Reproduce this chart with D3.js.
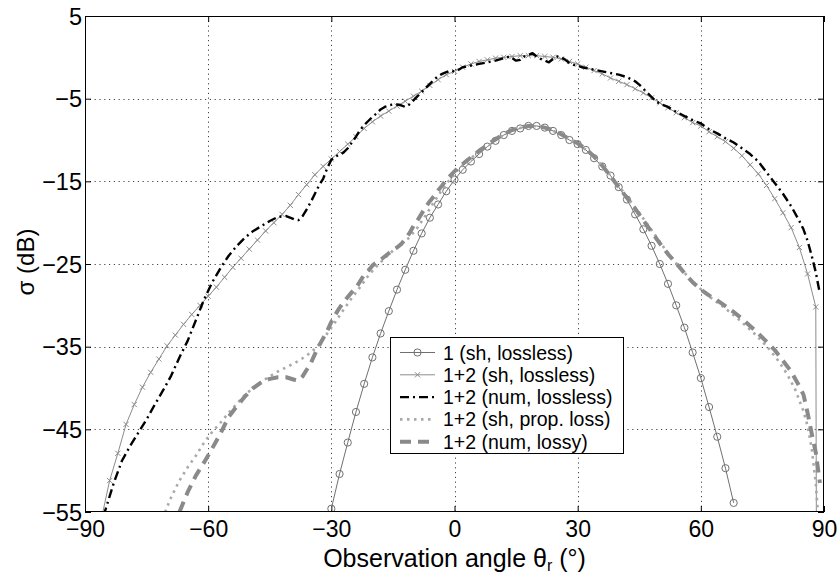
<!DOCTYPE html>
<html><head><meta charset="utf-8">
<script src="https://cdn.jsdelivr.net/npm/d3@7"></script>
<style>body{margin:0;background:#fff;} svg{display:block;font-family:"Liberation Sans",Arial,Helvetica,sans-serif;}</style>
</head><body><svg id="c" width="840" height="575"></svg>
<script>
const xTicks = [-90, -60, -30, 0, 30, 60, 90];
const yTicks = [5, -5, -15, -25, -35, -45, -55];
const xLabel = "Observation angle θ";
const yLabel = "σ (dB)";
const legendLabels = ["1 (sh, lossless)", "1+2 (sh, lossless)", "1+2 (num, lossless)", "1+2 (sh, prop. loss)", "1+2 (num, lossy)"];

// series 1: 1 (sh, lossless)  [theta, sigma]
const s1 = [[-30,-54.6],[-28,-50.4],[-26,-46.6],[-24,-42.9],[-22,-39.5],[-20,-36.3],[-18,-33.4],[-16,-30.7],[-14,-28.1],[-12,-25.7],[-10,-23.4],[-8,-21.3],[-6,-19.4],[-4,-17.8],[-2,-16.2],[0,-14.8],[2,-13.6],[4,-12.6],[6,-11.7],[8,-10.8],[10,-10.1],[12,-9.4],[14,-8.9],[16,-8.6],[18,-8.3],[20,-8.3],[22,-8.5],[24,-8.9],[26,-9.4],[28,-10.0],[30,-10.5],[32,-11.2],[34,-12.2],[36,-13.2],[38,-14.3],[40,-15.7],[42,-17.2],[44,-19.0],[46,-20.8],[48,-22.8],[50,-25.0],[52,-27.4],[54,-30.0],[56,-32.7],[58,-35.7],[60,-38.8],[62,-42.3],[64,-45.9],[66,-49.7],[68,-53.9]];

// series 2: 1+2 (sh, lossless)
const s2 = [[-86,-55.8],[-84,-51.2],[-82,-47.9],[-80,-44.4],[-78,-42.0],[-76,-39.9],[-74,-38.1],[-72,-36.5],[-70,-34.9],[-68,-33.6],[-66,-32.3],[-64,-31.1],[-62,-30.0],[-60,-28.9],[-58,-27.8],[-56,-26.6],[-54,-25.4],[-52,-24.3],[-50,-23.2],[-48,-22.1],[-46,-21.0],[-44,-20.0],[-42,-19.0],[-40,-17.9],[-38,-16.6],[-36,-15.4],[-34,-14.2],[-32,-13.2],[-30,-12.3],[-28,-11.4],[-26,-10.5],[-24,-9.6],[-22,-8.6],[-20,-7.8],[-18,-7.1],[-16,-6.5],[-14,-5.9],[-12,-5.3],[-10,-4.7],[-8,-4.1],[-6,-3.4],[-4,-2.7],[-2,-2.1],[0,-1.7],[2,-1.2],[4,-0.8],[6,-0.5],[8,-0.3],[10,-0.1],[12,0.0],[14,0.1],[16,0.2],[18,0.2],[20,0.2],[22,0.1],[24,0.0],[26,-0.2],[28,-0.5],[30,-0.8],[32,-1.2],[34,-1.6],[36,-2.0],[38,-2.5],[40,-2.9],[42,-3.3],[44,-3.8],[46,-4.3],[48,-4.9],[50,-5.5],[52,-6.1],[54,-6.7],[56,-7.3],[58,-7.9],[60,-8.3],[62,-9.0],[64,-9.6],[66,-10.2],[68,-11.0],[70,-11.9],[72,-13.0],[74,-14.1],[76,-15.5],[78,-17.1],[80,-18.8],[82,-20.6],[84,-23.0],[86,-26.2],[88,-30.2],[90,-400]];

// series 3: 1+2 (num, lossless)
const s3 = [[-85.5,-55.5],[-83,-51.5],[-81,-48.8],[-79,-47.0],[-77,-45.4],[-75,-43.8],[-73,-42.0],[-71,-40.3],[-69,-38.5],[-67,-36.3],[-65,-34.3],[-63,-31.8],[-61,-29.3],[-59,-27.2],[-57,-25.5],[-55,-24.0],[-53,-22.8],[-51,-21.8],[-49,-21.0],[-47,-20.4],[-45,-19.8],[-43,-19.3],[-41,-19.2],[-39,-19.6],[-38,-19.7],[-37,-19.2],[-36,-18.4],[-35,-17.5],[-34,-16.5],[-33,-15.5],[-32,-14.7],[-31,-13.4],[-30,-12.4],[-29,-12.0],[-28,-11.8],[-27,-11.5],[-26,-11.0],[-25,-10.3],[-24,-9.6],[-23,-8.8],[-22,-8.2],[-21,-7.7],[-20,-7.2],[-19,-6.8],[-18,-6.3],[-17,-6.0],[-16,-5.8],[-15,-5.7],[-14,-5.7],[-13,-5.8],[-12,-6.0],[-11,-5.7],[-10,-5.2],[-9,-4.7],[-8,-4.2],[-7,-3.7],[-6,-3.2],[-5,-2.7],[-4,-2.3],[-3,-2.0],[-2,-1.8],[-1,-1.6],[0,-1.7],[1,-1.5],[2,-1.2],[3,-1.1],[4,-1.0],[6,-0.8],[8,-0.6],[10,-0.4],[12,-0.1],[13.5,0.1],[15,-0.4],[16,-0.3],[17,0.1],[18,0.3],[19,0.5],[20,0.1],[21,-0.2],[22,-0.4],[23,-0.6],[24,-0.2],[25,0.1],[26,0.0],[27,-0.3],[28,-0.7],[29,-0.9],[30,-1.0],[31,-1.2],[32,-1.3],[34,-1.5],[36,-1.7],[38,-1.9],[40,-2.1],[42,-2.4],[44,-2.9],[45,-3.3],[46,-3.8],[47,-4.3],[48,-4.8],[49,-5.3],[50,-5.6],[52,-6.0],[54,-6.6],[56,-7.1],[58,-7.6],[60,-8.0],[62,-8.7],[64,-9.2],[66,-9.8],[68,-10.3],[70,-11.0],[72,-11.7],[74,-12.6],[76,-13.9],[78,-15.2],[80,-16.5],[82,-18.0],[84,-19.8],[85,-20.8],[86,-22.2],[87,-24.0],[88,-26.0],[89,-28.6]];

// series 4: 1+2 (sh, prop. loss)
const s4 = [[-70.5,-55.0],[-69,-53.2],[-67,-51.2],[-65,-49.6],[-63,-48.2],[-61,-46.6],[-59,-45.3],[-57,-44.2],[-55,-43.0],[-53,-41.9],[-51,-40.8],[-49,-40.0],[-47,-39.2],[-45,-38.6],[-43,-38.0],[-41,-37.5],[-39,-37.0],[-37,-36.4],[-35,-35.7],[-33,-34.8],[-31,-33.4],[-29,-32.0],[-27,-30.5],[-25,-29.1],[-23,-27.8],[-21,-26.4],[-19,-25.3],[-17,-24.3],[-15,-23.4],[-13,-22.6],[-11,-21.8],[-9,-20.6],[-7,-19.1],[-5,-17.5],[-3,-16.0],[-1,-14.7],[1,-13.5],[3,-12.6],[5,-11.8],[7,-11.1],[9,-10.4],[11,-9.7],[13,-9.1],[15,-8.7],[17,-8.4],[19,-8.3],[21,-8.4],[23,-8.7],[25,-9.1],[27,-9.6],[29,-10.2],[31,-10.8],[33,-11.6],[35,-12.6],[37,-13.7],[39,-14.9],[41,-16.2],[43,-17.5],[45,-18.8],[47,-20.2],[49,-21.6],[51,-23.0],[53,-24.3],[55,-25.5],[57,-26.6],[59,-27.6],[61,-28.5],[63,-29.3],[65,-30.0],[67,-30.8],[69,-31.6],[71,-32.5],[73,-33.4],[75,-34.4],[77,-35.5],[79,-36.8],[81,-38.3],[83,-40.2],[85,-42.8],[86,-44.6],[87,-47.3],[88,-51.5],[88.5,-55.0]];

// series 5: 1+2 (num, lossy)
const s5 = [[-67,-55.0],[-65,-52.6],[-63,-50.6],[-61,-49.0],[-59,-47.3],[-57,-45.5],[-55,-43.5],[-53,-42.2],[-51,-41.0],[-49,-40.0],[-47,-39.3],[-45,-38.9],[-43,-38.7],[-41,-38.7],[-39,-39.0],[-38,-39.1],[-37,-38.6],[-36,-37.8],[-35,-37.0],[-34,-35.9],[-33,-34.9],[-32,-34.0],[-31,-33.1],[-30,-32.0],[-29,-31.1],[-28,-30.3],[-27,-29.6],[-26,-29.0],[-25,-28.4],[-24,-27.9],[-23,-27.1],[-22,-26.3],[-21,-25.8],[-20,-25.2],[-19,-24.8],[-18,-24.5],[-17,-24.1],[-16,-23.7],[-15,-23.3],[-14,-23.0],[-13,-22.6],[-12,-22.0],[-11,-21.3],[-10,-20.4],[-9,-19.7],[-8,-18.9],[-7,-18.1],[-6,-17.4],[-5,-16.8],[-4,-16.1],[-3,-15.5],[-2,-14.8],[-1,-14.3],[0,-13.8],[1,-13.3],[2,-12.9],[3,-12.5],[4,-12.1],[6,-11.3],[8,-10.6],[10,-9.9],[12,-9.3],[14,-8.8],[16,-8.5],[18,-8.3],[20,-8.3],[22,-8.5],[24,-8.8],[26,-9.3],[28,-9.9],[30,-10.4],[32,-11.1],[34,-12.0],[36,-13.1],[38,-14.4],[40,-15.7],[42,-17.0],[44,-18.3],[46,-19.7],[48,-21.1],[50,-22.5],[52,-23.8],[54,-24.9],[56,-26.1],[58,-27.2],[60,-28.1],[62,-28.8],[64,-29.4],[66,-30.1],[68,-30.8],[70,-31.6],[72,-32.5],[74,-33.4],[76,-34.4],[78,-35.4],[80,-36.7],[82,-38.0],[84,-39.8],[85,-40.8],[86,-43.0],[87,-45.5],[88,-47.8],[89,-51.5]];

const L = 85, R = 824, T = 16, B = 512;
const svg = d3.select("#c");
const x = d3.scaleLinear().domain([-90, 90]).range([L, R]);
const y = d3.scaleLinear().domain([-55, 5]).range([B, T]);

svg.append("rect").attr("width", 840).attr("height", 575).attr("fill", "#fff");

svg.append("defs").append("clipPath").attr("id", "clip")
  .append("rect").attr("x", L).attr("y", T).attr("width", R - L).attr("height", B - T);

// grid
const grid = svg.append("g").attr("stroke", "#444").attr("stroke-width", 1).attr("stroke-dasharray", "1.2,3.6");
grid.selectAll("line.gx").data(xTicks.slice(1, -1)).join("line")
  .attr("x1", d => Math.round(x(d)) + 0.5).attr("x2", d => Math.round(x(d)) + 0.5).attr("y1", T).attr("y2", B);
grid.selectAll("line.gy").data(yTicks.slice(1, -1)).join("line")
  .attr("y1", d => Math.round(y(d)) + 0.5).attr("y2", d => Math.round(y(d)) + 0.5).attr("x1", L).attr("x2", R);

// axes with inward ticks
const tk = 6;
const fmt = d => d < 0 ? "\u2212" + Math.abs(d) : String(d);
const axB = svg.append("g").attr("transform", `translate(0,${B})`)
  .call(d3.axisBottom(x).tickValues(xTicks).tickSizeInner(-tk).tickSizeOuter(0).tickFormat(fmt));
const axT = svg.append("g").attr("transform", `translate(0,${T})`)
  .call(d3.axisTop(x).tickValues(xTicks).tickSizeInner(-tk).tickSizeOuter(0).tickFormat(""));
const axL = svg.append("g").attr("transform", `translate(${L},0)`)
  .call(d3.axisLeft(y).tickValues(yTicks).tickSizeInner(-tk).tickSizeOuter(0).tickFormat(fmt));
const axR = svg.append("g").attr("transform", `translate(${R},0)`)
  .call(d3.axisRight(y).tickValues(yTicks).tickSizeInner(-tk).tickSizeOuter(0).tickFormat(""));
[axB, axT, axL, axR].forEach(a => { a.select(".domain").remove(); a.selectAll("line").attr("stroke", "#000"); });
axB.selectAll("text").attr("font-size", 23).attr("font-family", "Liberation Sans, Arial, sans-serif").attr("fill", "#000").attr("y", 9).attr("dy", "0.71em");
axL.selectAll("text").attr("font-size", 23.5).attr("font-family", "Liberation Sans, Arial, sans-serif").attr("fill", "#000").attr("x", -3).attr("dy", "0.35em");

const plot = svg.append("g").attr("clip-path", "url(#clip)");
const line = d3.line().x(d => x(d[0])).y(d => y(d[1]));

const styles = [
  {data: s1, color: "#707070", width: 1, dash: null, marker: "o"},
  {data: s2, color: "#8c8c8c", width: 1, dash: null, marker: "x"},
  {data: s3, color: "#000000", width: 2.4, dash: "9,4,2,4", marker: null},
  {data: s4, color: "#a8a8a8", width: 2.6, dash: "2.5,4.5", marker: null},
  {data: s5, color: "#8a8a8a", width: 4, dash: "11,7", marker: null}
];

function drawMarker(g, type, cx, cy, color) {
  if (type === "o") {
    g.append("circle").attr("cx", cx).attr("cy", cy).attr("r", 3.6)
      .attr("fill", "none").attr("stroke", color).attr("stroke-width", 1);
  } else if (type === "x") {
    const s = 2.6;
    g.append("path").attr("d", `M${cx - s},${cy - s}L${cx + s},${cy + s}M${cx - s},${cy + s}L${cx + s},${cy - s}`)
      .attr("stroke", color).attr("stroke-width", 1).attr("fill", "none");
  }
}

styles.forEach(st => {
  const p = plot.append("path").datum(st.data).attr("d", line)
    .attr("fill", "none").attr("stroke", st.color).attr("stroke-width", st.width)
    .attr("stroke-linejoin", "round");
  if (st.dash) p.attr("stroke-dasharray", st.dash);
  if (st.marker) {
    const mg = plot.append("g");
    st.data.forEach(d => drawMarker(mg, st.marker, x(d[0]), y(d[1]), st.color));
  }
});

// frame
svg.append("rect").attr("x", L + 0.5).attr("y", T + 0.5).attr("width", R - L - 1).attr("height", B - T - 1)
  .attr("fill", "none").attr("stroke", "#000").attr("stroke-width", 1);

// legend
const lg = svg.append("g");
const lx = 390, ly = 337, lw = 233, lh = 116;
lg.append("rect").attr("x", lx + 0.5).attr("y", ly + 0.5).attr("width", lw).attr("height", lh)
  .attr("fill", "#fff").attr("stroke", "#000").attr("stroke-width", 1);
legendLabels.forEach((lab, i) => {
  const st = styles[i];
  const cy = ly + 15.5 + i * 22.3;
  const l = lg.append("line").attr("x1", lx + 10).attr("x2", lx + 45).attr("y1", cy).attr("y2", cy)
    .attr("stroke", st.color).attr("stroke-width", st.width);
  if (st.dash) l.attr("stroke-dasharray", st.dash);
  if (st.marker) drawMarker(lg, st.marker, lx + 27.5, cy, st.color);
  lg.append("text").attr("x", lx + 53).attr("y", cy).attr("dy", "0.36em")
    .attr("font-size", 19.5).attr("fill", "#000").text(lab);
});

// axis labels
const xl = svg.append("text").attr("x", (L + R) / 2).attr("y", 567).attr("text-anchor", "middle")
  .attr("font-size", 25).attr("fill", "#000");
xl.append("tspan").text(xLabel);
xl.append("tspan").attr("dy", 4).attr("font-size", 16).text("r");
xl.append("tspan").attr("dy", -4).text(" (°)");

svg.append("text").attr("transform", `translate(34,${(T + B) / 2 - 2}) rotate(-90)`)
  .attr("text-anchor", "middle").attr("font-size", 24).attr("fill", "#000").text(yLabel);
</script></body></html>
